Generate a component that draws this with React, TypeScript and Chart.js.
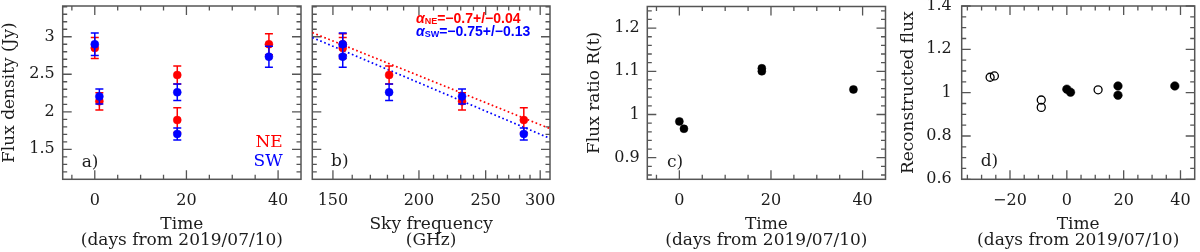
import React, { useEffect, useRef } from 'react';
import { Chart, registerables } from 'chart.js';

Chart.register(...registerables);

const SERIF = '"DejaVu Serif", "Liberation Serif", serif';
const SANS = '"Liberation Sans", Arial, sans-serif';
const TEXT = '#1c1c1c';
const FRAME = '#555555';
const RED = '#ff0000';
const BLUE = '#0000ff';
const BLACK = '#000000';

// ---- panels a & b : flux densities ----
const epochs = [0, 1, 18, 18, 38];
const skyFreqs = [155, 231, 181, 284, 155];
const neFlux = [2.85, 2.14, 2.49, 1.89, 2.9];
const neErr = [0.14, 0.115, 0.12, 0.165, 0.14];
const swFlux = [2.9, 2.205, 2.26, 1.705, 2.735];
const swErr = [0.15, 0.1, 0.11, 0.08, 0.14];
const fitFreqs = [140, 310];
const neFit = [3.055, 1.775];
const swFit = [2.99, 1.645];

// ---- panel c : flux ratio ----
const ratioEpochs = [0, 1, 18, 18, 38];
const ratioValues = [0.984, 0.967, 1.107, 1.1, 1.058];

// ---- panel d : reconstructed flux ----
const openEpochs = [-27, -25.5, -9, -9, 11];
const openFlux = [1.071, 1.077, 0.966, 0.932, 1.013];
const filledEpochs = [0, 1.3, 18, 18, 38];
const filledFlux = [1.016, 1.002, 1.031, 0.988, 1.031];

// ---- ticks ----
const timeTicks = [0, 20, 40];
const timeTickLabels = ['0', '20', '40'];
const timeMinor = [-5, 5, 10, 15, 25, 30, 35];
const fluxTicks = [1.5, 2, 2.5, 3];
const fluxTickLabels = ['1.5', '2', '2.5', '3'];
const fluxMinor = [1.2, 1.3, 1.4, 1.6, 1.7, 1.8, 1.9, 2.1, 2.2, 2.3, 2.4, 2.6, 2.7, 2.8, 2.9, 3.1, 3.2, 3.3, 3.4];
const freqTicks = [150, 200, 250, 300];
const freqTickLabels = ['150', '200', '250', '300'];
const freqMinor = [160, 170, 180, 190, 210, 220, 230, 240, 260, 270, 280, 290];
const ratioTicks = [0.9, 1, 1.1, 1.2];
const ratioTickLabels = ['0.9', '1', '1.1', '1.2'];
const ratioMinor = [0.86, 0.88, 0.92, 0.94, 0.96, 0.98, 1.02, 1.04, 1.06, 1.08, 1.12, 1.14, 1.16, 1.18, 1.22, 1.24];
const timeDTicks = [-20, 0, 20, 40];
const timeDTickLabels = ['\u221220', '0', '20', '40'];
const timeDMinor = [-35, -30, -25, -15, -10, -5, 5, 10, 15, 25, 30, 35];
const recoTicks = [0.6, 0.8, 1, 1.2, 1.4];
const recoTickLabels = ['0.6', '0.8', '1', '1.2', '1.4'];
const recoMinor = [0.65, 0.7, 0.75, 0.85, 0.9, 0.95, 1.05, 1.1, 1.15, 1.25, 1.3, 1.35];

const TIME_TITLE = ['Time', '(days from 2019/07/10)'];

// ---------- plugins ----------
function framePlugin(spec: { xMajor: number[]; xMinor: number[]; yMajor: number[]; yMinor: number[] }) {
  return {
    id: 'frameTicks',
    beforeDatasetsDraw(chart: any) {
      const { ctx, chartArea: a, scales } = chart;
      const xs = scales.x;
      const ys = scales.y;
      ctx.save();
      ctx.strokeStyle = FRAME;
      ctx.lineWidth = 1.3;
      ctx.beginPath();
      const xt = (vals: number[], len: number) => {
        vals.forEach((v) => {
          const p = xs.getPixelForValue(v);
          ctx.moveTo(p, a.bottom);
          ctx.lineTo(p, a.bottom - len);
          ctx.moveTo(p, a.top);
          ctx.lineTo(p, a.top + len);
        });
      };
      const yt = (vals: number[], len: number) => {
        vals.forEach((v) => {
          const p = ys.getPixelForValue(v);
          ctx.moveTo(a.left, p);
          ctx.lineTo(a.left + len, p);
          ctx.moveTo(a.right, p);
          ctx.lineTo(a.right - len, p);
        });
      };
      xt(spec.xMajor, 9);
      xt(spec.xMinor, 4.5);
      yt(spec.yMajor, 9);
      yt(spec.yMinor, 4.5);
      ctx.stroke();
      ctx.lineWidth = 1.5;
      ctx.strokeRect(a.left, a.top, a.right - a.left, a.bottom - a.top);
      ctx.restore();
    },
  };
}

const errorBarsPlugin = {
  id: 'errorBars',
  beforeDatasetDraw(chart: any, args: any) {
    const ds = chart.data.datasets[args.index];
    const errs: number[] | undefined = ds.errors;
    if (!errs) return;
    const { ctx } = chart;
    const ys = chart.scales.y;
    ctx.save();
    ctx.strokeStyle = ds.pointBorderColor;
    ctx.lineWidth = 1.5;
    ctx.beginPath();
    args.meta.data.forEach((pt: any, i: number) => {
      const v = ds.data[i].y;
      const x = pt.x;
      const y1 = ys.getPixelForValue(v - errs[i]);
      const y2 = ys.getPixelForValue(v + errs[i]);
      ctx.moveTo(x, y1);
      ctx.lineTo(x, y2);
      ctx.moveTo(x - 4, y1);
      ctx.lineTo(x + 4, y1);
      ctx.moveTo(x - 4, y2);
      ctx.lineTo(x + 4, y2);
    });
    ctx.stroke();
    ctx.restore();
  },
};

type TextPart = { text: string; font: string; dy?: number };
type TextItem = { x: number; y: number; color: string; align?: 'left' | 'right'; parts: TextPart[] };

function textPlugin(items: TextItem[]) {
  return {
    id: 'panelText',
    afterDatasetsDraw(chart: any) {
      const { ctx, chartArea: a } = chart;
      items.forEach((it) => {
        ctx.save();
        ctx.fillStyle = it.color;
        ctx.textBaseline = 'middle';
        ctx.textAlign = 'left';
        let total = 0;
        it.parts.forEach((p) => {
          ctx.font = p.font;
          total += ctx.measureText(p.text).width;
        });
        let x = a.left + it.x - (it.align === 'right' ? total : 0);
        it.parts.forEach((p) => {
          ctx.font = p.font;
          ctx.fillText(p.text, x, a.top + it.y + (p.dy || 0));
          x += ctx.measureText(p.text).width;
        });
        ctx.restore();
      });
    },
  };
}

// ---------- scales ----------
type AxisSpec = {
  type?: 'linear' | 'logarithmic';
  min: number;
  max: number;
  ticks: number[];
  labels?: string[];
  title?: string | string[];
  titlePad?: number;
  labelPad?: number;
  size: number;
};

function xScale(s: AxisSpec) {
  return {
    type: s.type || 'linear',
    position: 'bottom',
    min: s.min,
    max: s.max,
    grid: { display: false, drawTicks: false },
    border: { display: false },
    afterBuildTicks: (sc: any) => {
      sc.ticks = s.ticks.map((v) => ({ value: v }));
    },
    ticks: {
      display: !!s.labels,
      autoSkip: false,
      maxRotation: 0,
      minRotation: 0,
      padding: s.labelPad ?? 12,
      color: TEXT,
      font: { family: SERIF, size: 16 },
      callback: (_v: any, i: number) => (s.labels ? s.labels[i] : ''),
    },
    title: {
      display: !!s.title,
      text: s.title,
      color: TEXT,
      font: { family: SERIF, size: 17, lineHeight: 0.92 },
      padding: { top: 0, bottom: s.titlePad ?? 3.5 },
    },
    afterFit: (sc: any) => {
      sc.height = s.size;
      sc.paddingLeft = 0;
      sc.paddingRight = 0;
    },
  };
}

function yScale(s: AxisSpec) {
  return {
    type: s.type || 'linear',
    position: 'left',
    min: s.min,
    max: s.max,
    grid: { display: false, drawTicks: false },
    border: { display: false },
    afterBuildTicks: (sc: any) => {
      sc.ticks = s.ticks.map((v) => ({ value: v }));
    },
    ticks: {
      display: !!s.labels,
      autoSkip: false,
      padding: s.labelPad ?? 8,
      color: TEXT,
      font: { family: SERIF, size: 16 },
      callback: (_v: any, i: number) => (s.labels ? s.labels[i] : ''),
    },
    title: {
      display: !!s.title,
      text: s.title,
      color: TEXT,
      font: { family: SERIF, size: 17, lineHeight: 1 },
      padding: { top: s.titlePad ?? 0, bottom: 0 },
    },
    afterFit: (sc: any) => {
      sc.width = s.size;
      sc.paddingTop = 0;
      sc.paddingBottom = 0;
    },
  };
}

function pts(xs: number[], ys: number[]) {
  return xs.map((x, i) => ({ x, y: ys[i] }));
}

function dots(data: any[], color: string, order: number, errors?: number[], radius = 4) {
  return {
    data,
    errors,
    order,
    showLine: false,
    pointRadius: radius,
    pointBackgroundColor: color,
    pointBorderColor: color,
    pointBorderWidth: 0.5,
    borderColor: color,
    backgroundColor: color,
  };
}

function baseOptions(padding: any, x: any, y: any) {
  return {
    responsive: false,
    animation: false,
    devicePixelRatio: 1,
    events: [],
    layout: { padding },
    plugins: { legend: { display: false }, tooltip: { enabled: false } },
    scales: { x, y },
  };
}

const SIZE_X = 72.7;
const SERIF17 = `17px ${SERIF}`;

function configA() {
  return {
    type: 'scatter',
    data: {
      datasets: [
        dots(pts(epochs, swFlux), BLUE, 1, swErr),
        dots(pts(epochs, neFlux), RED, 2, neErr),
      ],
    },
    options: baseOptions(
      { top: 6, right: 5, left: 0, bottom: 0 },
      xScale({ min: -7, max: 45, ticks: timeTicks, labels: timeTickLabels, title: TIME_TITLE, size: SIZE_X }),
      yScale({ min: 1.1, max: 3.41, ticks: fluxTicks, labels: fluxTickLabels, title: 'Flux density (Jy)', titlePad: 1, size: 62.7 })
    ),
    plugins: [
      framePlugin({ xMajor: timeTicks, xMinor: timeMinor, yMajor: fluxTicks, yMinor: fluxMinor }),
      errorBarsPlugin,
      textPlugin([
        { x: 19, y: 156.3, color: TEXT, parts: [{ text: 'a)', font: SERIF17 }] },
        { x: 220, y: 136.7, color: RED, align: 'right', parts: [{ text: 'NE', font: SERIF17 }] },
        { x: 220, y: 155.7, color: BLUE, align: 'right', parts: [{ text: 'SW', font: SERIF17 }] },
      ]),
    ],
  };
}

function configB() {
  const ALPHA = `italic bold 14px ${SANS}`;
  const SUB = `bold 9px ${SANS}`;
  const EQ = `bold 14px ${SANS}`;
  return {
    type: 'scatter',
    data: {
      datasets: [
        dots(pts(skyFreqs, swFlux), BLUE, 1, swErr),
        dots(pts(skyFreqs, neFlux), RED, 2, neErr),
        {
          data: pts(fitFreqs, swFit),
          order: 3,
          showLine: true,
          pointRadius: 0,
          borderColor: BLUE,
          borderWidth: 1.7,
          borderDash: [1.7, 2.6],
        },
        {
          data: pts(fitFreqs, neFit),
          order: 4,
          showLine: true,
          pointRadius: 0,
          borderColor: RED,
          borderWidth: 1.7,
          borderDash: [1.7, 2.6],
        },
      ],
    },
    options: baseOptions(
      { top: 6, right: 10, left: 0, bottom: 0 },
      xScale({ type: 'logarithmic', min: 140, max: 310, ticks: freqTicks, labels: freqTickLabels, title: ['Sky frequency', '(GHz)'], size: SIZE_X }),
      yScale({ min: 1.1, max: 3.41, ticks: fluxTicks, size: 6.3 })
    ),
    plugins: [
      framePlugin({ xMajor: freqTicks, xMinor: freqMinor, yMajor: fluxTicks, yMinor: fluxMinor }),
      errorBarsPlugin,
      textPlugin([
        { x: 18.7, y: 155.7, color: TEXT, parts: [{ text: 'b)', font: SERIF17 }] },
        {
          x: 103.7,
          y: 13,
          color: RED,
          parts: [
            { text: '\u03b1', font: ALPHA },
            { text: 'NE', font: SUB, dy: 3 },
            { text: '=\u22120.7+/\u22120.04', font: EQ },
          ],
        },
        {
          x: 103.7,
          y: 26,
          color: BLUE,
          parts: [
            { text: '\u03b1', font: ALPHA },
            { text: 'SW', font: SUB, dy: 3 },
            { text: '=\u22120.75+/\u22120.13', font: EQ },
          ],
        },
      ]),
    ],
  };
}

function configC() {
  return {
    type: 'scatter',
    data: { datasets: [dots(pts(ratioEpochs, ratioValues), BLACK, 1)] },
    options: baseOptions(
      { top: 6.5, right: 4.5, left: 0, bottom: 0 },
      xScale({ min: -7, max: 45, ticks: timeTicks, labels: timeTickLabels, title: TIME_TITLE, size: SIZE_X }),
      yScale({ min: 0.85, max: 1.25, ticks: ratioTicks, labels: ratioTickLabels, title: 'Flux ratio R(t)', titlePad: 26, labelPad: 7.5, size: 87.3 })
    ),
    plugins: [
      framePlugin({ xMajor: timeTicks, xMinor: timeMinor, yMajor: ratioTicks, yMinor: ratioMinor }),
      textPlugin([{ x: 19.7, y: 155.8, color: TEXT, parts: [{ text: 'c)', font: SERIF17 }] }]),
    ],
  };
}

function configD() {
  return {
    type: 'scatter',
    data: {
      datasets: [
        dots(pts(filledEpochs, filledFlux), BLACK, 1, undefined, 4.3),
        {
          data: pts(openEpochs, openFlux),
          order: 2,
          showLine: false,
          pointRadius: 4,
          pointBackgroundColor: 'rgba(255,255,255,0)',
          pointBorderColor: BLACK,
          pointBorderWidth: 1.3,
          borderColor: BLACK,
        },
      ],
    },
    options: baseOptions(
      { top: 6, right: 1, left: 0, bottom: 0 },
      xScale({ min: -37, max: 45, ticks: timeDTicks, labels: timeDTickLabels, title: TIME_TITLE, size: SIZE_X }),
      yScale({ min: 0.6, max: 1.4, ticks: recoTicks, labels: recoTickLabels, title: 'Reconstructed flux', titlePad: 9.8, labelPad: 10, size: 71.7 })
    ),
    plugins: [
      framePlugin({ xMajor: timeDTicks, xMinor: timeDMinor, yMajor: recoTicks, yMinor: recoMinor }),
      textPlugin([{ x: 19, y: 156, color: TEXT, parts: [{ text: 'd)', font: SERIF17 }] }]),
    ],
  };
}

function Panel({ left, width, make }: { left: number; width: number; make: () => any }) {
  const ref = useRef<HTMLCanvasElement>(null);
  useEffect(() => {
    const chart = new Chart(ref.current as HTMLCanvasElement, make());
    return () => chart.destroy();
  }, []);
  return (
    <canvas
      ref={ref}
      width={width}
      height={252}
      style={{ position: 'absolute', left, top: 0, width, height: 252 }}
    />
  );
}

export default function App() {
  return (
    <div style={{ position: 'fixed', left: 0, top: 0, width: 1200, height: 252, background: '#ffffff', overflow: 'hidden' }}>
      <Panel left={0} width={306} make={configA} />
      <Panel left={306} width={254} make={configB} />
      <Panel left={560} width={330} make={configC} />
      <Panel left={890} width={310} make={configD} />
    </div>
  );
}
